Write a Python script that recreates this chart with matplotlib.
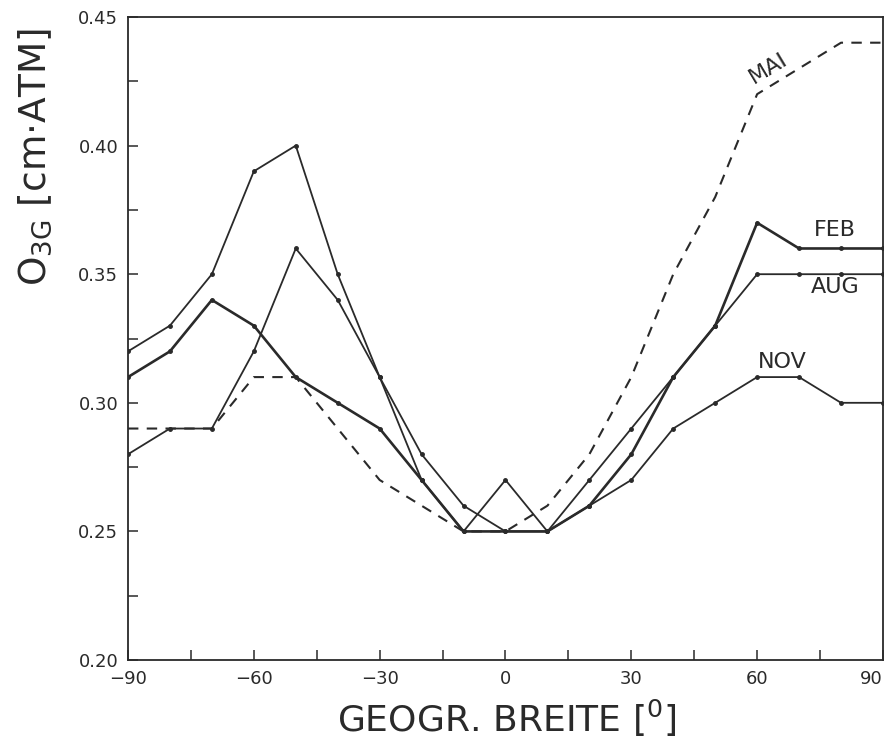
import matplotlib
matplotlib.use("Agg")
import matplotlib.pyplot as plt
from matplotlib.ticker import MultipleLocator

# geographische Breite in Grad
breite = [-90, -80, -70, -60, -50, -40, -30, -20, -10, 0,
          10, 20, 30, 40, 50, 60, 70, 80, 90]

# Gesamtozon O3G [cm ATM]
feb = [0.31, 0.32, 0.34, 0.33, 0.31, 0.30, 0.29, 0.27, 0.25, 0.25,
       0.25, 0.26, 0.28, 0.31, 0.33, 0.37, 0.36, 0.36, 0.36]
mai = [0.29, 0.29, 0.29, 0.31, 0.31, 0.29, 0.27, 0.26, 0.25, 0.25,
       0.26, 0.28, 0.31, 0.35, 0.38, 0.42, 0.43, 0.44, 0.44]
aug = [0.28, 0.29, 0.29, 0.32, 0.36, 0.34, 0.31, 0.28, 0.26, 0.25,
       0.25, 0.27, 0.29, 0.31, 0.33, 0.35, 0.35, 0.35, 0.35]
nov = [0.32, 0.33, 0.35, 0.39, 0.40, 0.35, 0.31, 0.27, 0.25, 0.27,
       0.25, 0.26, 0.27, 0.29, 0.30, 0.31, 0.31, 0.30, 0.30]

x_ticks = [-90, -60, -30, 0, 30, 60, 90]
x_labels = ['\u221290', '\u221260', '\u221230', '0', '30', '60', '90']
y_ticks = [0.20, 0.25, 0.30, 0.35, 0.40, 0.45]
y_labels = ['0.20', '0.25', '0.30', '0.35', '0.40', '0.45']

plt.rcParams['font.family'] = ['DejaVu Sans']

fig = plt.figure(figsize=(8.9, 7.48), dpi=100)
ax = fig.add_axes([0.1438, 0.1176, 0.8483, 0.8597])

farbe = '#2a2a2a'
ax.plot(breite, feb, color=farbe, lw=1.9, marker='o', ms=2.5)
ax.plot(breite, aug, color=farbe, lw=1.3, marker='o', ms=2.5)
ax.plot(breite, nov, color=farbe, lw=1.3, marker='o', ms=2.5)
ax.plot(breite, mai, color=farbe, lw=1.5, linestyle=(0, (5, 4)))

ax.set_xlim(-90, 90)
ax.set_ylim(0.20, 0.45)
ax.set_xticks(x_ticks)
ax.set_xticklabels(x_labels)
ax.get_xticklabels()[-1].set_horizontalalignment('right')
ax.xaxis.set_minor_locator(MultipleLocator(15))
ax.set_yticks(y_ticks)
ax.set_yticklabels(y_labels)
ax.yaxis.set_minor_locator(MultipleLocator(0.025))
ax.tick_params(which='both', direction='in', length=7, width=1.1,
               top=False, right=False, labelsize=13, pad=7, colors=farbe)
for s in ax.spines.values():
    s.set_linewidth(1.3)
    s.set_color(farbe)

# Monatsbeschriftungen
ax.text(78.5, 0.367, 'FEB', fontsize=16, ha='center', va='center', color=farbe)
ax.text(78.5, 0.345, 'AUG', fontsize=16, ha='center', va='center', color=farbe)
ax.text(66.0, 0.316, 'NOV', fontsize=16, ha='center', va='center', color=farbe)
ax.text(62.7, 0.430, 'MAI', fontsize=16, ha='center', va='center',
        rotation=31, color=farbe)

fig.text(0.040, 0.79, r'O$_{\mathrm{3G}}$ [cm$\cdot$ATM]', fontsize=27,
         rotation=90, ha='center', va='center', color=farbe)
fig.text(0.569, 0.040, r'GEOGR. BREITE $\left[{}^{0}\right]$', fontsize=26,
         ha='center', va='center', color=farbe)

fig.savefig('out.png', dpi=100)
